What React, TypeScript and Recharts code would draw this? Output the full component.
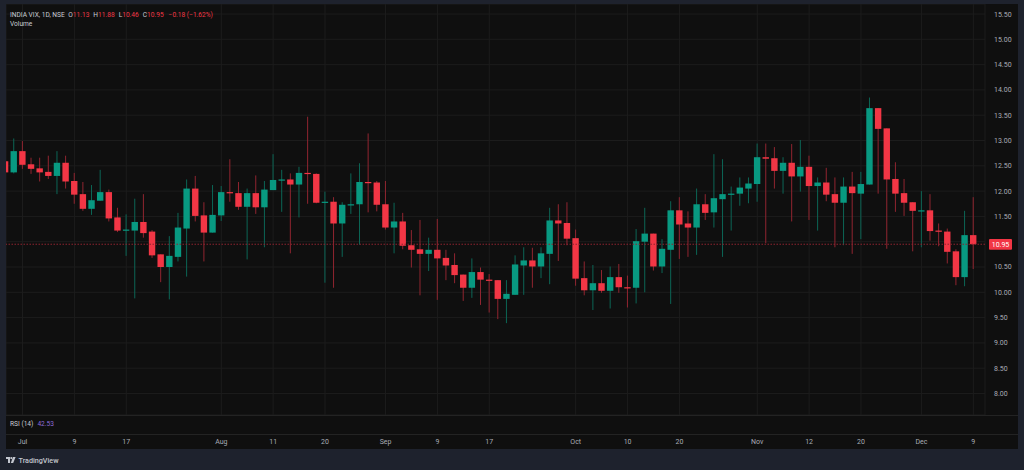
import React from 'react';
import { ComposedChart, Bar, XAxis, YAxis, CartesianGrid, ReferenceLine } from 'recharts';

// ---- data ----
const dates = [
  'Jun 27', 'Jun 30',
  'Jul 1', 'Jul 2', 'Jul 3', 'Jul 4', 'Jul 7', 'Jul 8', 'Jul 9', 'Jul 10', 'Jul 11', 'Jul 14', 'Jul 15', 'Jul 16', 'Jul 17', 'Jul 18',
  'Jul 21', 'Jul 22', 'Jul 23', 'Jul 24', 'Jul 25', 'Jul 28', 'Jul 29', 'Jul 30', 'Jul 31',
  'Aug 1', 'Aug 4', 'Aug 5', 'Aug 6', 'Aug 7', 'Aug 8', 'Aug 11', 'Aug 12', 'Aug 13', 'Aug 14', 'Aug 18', 'Aug 19', 'Aug 20',
  'Aug 21', 'Aug 22', 'Aug 25', 'Aug 26', 'Aug 28', 'Aug 29',
  'Sep 1', 'Sep 2', 'Sep 3', 'Sep 4', 'Sep 5', 'Sep 8', 'Sep 9', 'Sep 10', 'Sep 11', 'Sep 12', 'Sep 15', 'Sep 16', 'Sep 17',
  'Sep 18', 'Sep 19', 'Sep 22', 'Sep 23', 'Sep 24', 'Sep 25', 'Sep 26', 'Sep 29', 'Sep 30',
  'Oct 1', 'Oct 3', 'Oct 6', 'Oct 7', 'Oct 8', 'Oct 9', 'Oct 10', 'Oct 13', 'Oct 14', 'Oct 15', 'Oct 16', 'Oct 17', 'Oct 20',
  'Oct 21', 'Oct 23', 'Oct 24', 'Oct 27', 'Oct 28', 'Oct 29', 'Oct 30', 'Oct 31',
  'Nov 3', 'Nov 4', 'Nov 6', 'Nov 7', 'Nov 10', 'Nov 11', 'Nov 12', 'Nov 13', 'Nov 14', 'Nov 17', 'Nov 18', 'Nov 19', 'Nov 20',
  'Nov 21', 'Nov 24', 'Nov 25', 'Nov 26', 'Nov 27', 'Nov 28',
  'Dec 1', 'Dec 2', 'Dec 3', 'Dec 4', 'Dec 5', 'Dec 8', 'Dec 9',
];

const opens = [
  12.59, 12.37,
  12.79, 12.53, 12.45, 12.38, 12.30, 12.56, 12.20, 11.94, 11.65, 11.81, 11.98, 11.48, 11.23, 11.22,
  11.39, 11.20, 10.75, 10.50, 10.70, 11.26, 12.05, 11.52, 11.18,
  11.52, 11.98, 11.96, 11.69, 11.96, 11.68, 12.02, 12.22, 12.23, 12.13, 12.36, 12.34, 11.78,
  11.79, 11.36, 11.73, 11.74, 12.18, 12.17,
  11.74, 11.28, 11.40, 10.93, 10.85, 10.76, 10.84, 10.68, 10.54, 10.35, 10.09, 10.40, 10.25,
  10.24, 9.87, 9.95, 10.53, 10.63, 10.51, 10.76, 11.42, 11.37,
  11.07, 10.28, 10.04, 10.18, 10.03, 10.30, 10.10, 10.09, 11.00, 11.16, 10.51, 10.84, 11.62,
  11.36, 11.28, 11.74, 11.58, 11.84, 11.93, 11.95, 12.05,
  12.14, 12.67, 12.65, 12.40, 12.56, 12.29, 12.48, 12.10, 12.17, 11.94, 11.77, 12.09, 11.95,
  12.13, 13.64, 13.24, 12.24, 11.96, 11.78,
  11.61, 11.62, 11.22, 11.20, 10.81, 10.30, 11.13,
];

const highs = [
  12.66, 13.04,
  12.99, 12.66, 12.66, 12.70, 12.79, 12.70, 12.36, 12.18, 12.12, 12.42, 12.03, 11.67, 11.54, 11.85,
  11.94, 11.23, 10.75, 11.11, 11.57, 12.23, 12.30, 11.78, 12.12,
  12.10, 12.63, 12.18, 12.05, 12.31, 12.20, 12.73, 12.42, 12.35, 12.48, 13.47, 12.35, 11.99,
  11.88, 11.78, 12.35, 12.55, 13.14, 12.20,
  12.20, 11.77, 11.57, 11.23, 11.43, 11.08, 11.45, 10.84, 10.77, 10.35, 10.67, 10.49, 10.36,
  10.24, 10.24, 10.73, 10.89, 10.88, 10.89, 11.67, 11.74, 11.78,
  11.24, 10.61, 10.54, 10.44, 10.51, 10.56, 10.33, 11.25, 11.67, 11.16, 11.05, 11.80, 11.88,
  11.60, 12.05, 11.94, 12.73, 12.63, 12.09, 12.27, 12.27,
  12.94, 12.94, 12.87, 12.67, 12.93, 13.01, 12.70, 12.27, 12.46, 12.27, 12.27, 12.38, 12.38,
  13.85, 13.64, 13.24, 12.57, 12.24, 11.78,
  12.00, 11.94, 11.36, 11.26, 10.85, 11.61, 11.88,
];

const lows = [
  12.30, 12.35,
  12.44, 12.34, 12.19, 12.24, 11.94, 12.05, 11.75, 11.61, 11.53, 11.81, 11.40, 11.19, 10.72, 9.88,
  11.08, 10.68, 10.20, 9.86, 10.61, 10.31, 11.40, 10.61, 11.18,
  11.41, 11.79, 11.63, 10.65, 11.55, 10.89, 12.02, 11.59, 10.77, 11.48, 11.75, 11.76, 10.19,
  10.09, 10.70, 11.55, 10.94, 11.58, 11.60,
  11.24, 10.77, 10.85, 10.49, 9.94, 10.42, 9.85, 10.24, 10.18, 9.83, 9.89, 9.75, 9.60,
  9.47, 9.39, 9.95, 9.95, 10.09, 10.28, 10.16, 10.62, 10.93,
  10.13, 9.94, 9.65, 9.99, 9.68, 9.99, 9.70, 9.78, 10.00, 10.43, 10.38, 9.77, 10.66,
  10.70, 10.74, 11.43, 11.28, 10.70, 11.22, 11.71, 11.76,
  11.79, 10.97, 12.05, 11.95, 11.40, 11.99, 11.43, 11.22, 11.80, 10.89, 10.93, 10.76, 11.05,
  12.13, 11.95, 10.86, 11.59, 11.51, 10.81,
  10.89, 11.02, 10.91, 10.57, 10.14, 10.12, 10.46,
];

const closes = [
  12.37, 12.79,
  12.52, 12.44, 12.37, 12.30, 12.56, 12.19, 11.93, 11.65, 11.82, 11.98, 11.46, 11.22, 11.24, 11.39,
  11.17, 10.73, 10.50, 10.72, 11.28, 12.05, 11.51, 11.18, 11.53,
  11.98, 11.96, 11.69, 11.96, 11.68, 12.03, 12.22, 12.23, 12.13, 12.36, 12.34, 11.77, 11.79,
  11.36, 11.73, 11.74, 12.18, 12.17, 11.73,
  11.28, 11.40, 10.92, 10.84, 10.76, 10.84, 10.67, 10.53, 10.34, 10.09, 10.40, 10.25, 10.24,
  9.87, 9.97, 10.55, 10.63, 10.51, 10.77, 11.42, 11.36, 11.06,
  10.27, 10.04, 10.18, 10.03, 10.30, 10.10, 10.09, 11.01, 11.16, 10.51, 10.86, 11.62, 11.34,
  11.28, 11.74, 11.57, 11.86, 11.94, 11.95, 12.07, 12.15,
  12.67, 12.64, 12.40, 12.56, 12.29, 12.48, 12.10, 12.17, 11.93, 11.77, 12.09, 11.96, 12.14,
  13.64, 13.23, 12.23, 11.95, 11.77, 11.61,
  11.62, 11.21, 11.20, 10.80, 10.30, 11.13, 10.95,
];

const tickDates = ['Jul 1', 'Jul 9', 'Jul 17', 'Aug 1', 'Aug 11', 'Aug 20', 'Sep 1', 'Sep 9', 'Sep 17',
  'Oct 1', 'Oct 10', 'Oct 20', 'Nov 3', 'Nov 12', 'Nov 20', 'Dec 1', 'Dec 9'];
const tickLabels = ['Jul', '9', '17', 'Aug', '11', '20', 'Sep', '9', '17',
  'Oct', '10', '20', 'Nov', '12', '20', 'Dec', '9'];

const priceTicks = [8.0, 8.5, 9.0, 9.5, 10.0, 10.5, 11.0, 11.5, 12.0, 12.5, 13.0, 13.5, 14.0, 14.5, 15.0, 15.5];

// ---- derived ----
const data = dates.map((d, k) => ({
  date: d,
  i: k,
  open: opens[k],
  high: highs[k],
  low: lows[k],
  close: closes[k],
}));
const xTicks = tickDates.map((d) => dates.indexOf(d));
const labelByIndex: Record<number, string> = {};
xTicks.forEach((t, j) => { labelByIndex[t] = tickLabels[j]; });
const lastClose = closes[closes.length - 1];

// ---- style ----
const FONT = "Roboto, 'Noto Sans', 'DejaVu Sans', sans-serif";
const UP = '#089981';
const DOWN = '#f23645';
const WICK_UP = '#0c6656';
const WICK_DOWN = '#912530';
const BG = '#0f0f0f';
const OUTER = '#1e222d';
const AXIS_TEXT = '#a9acb5';
const LABEL = '#c9ccd4';

const Candle = (props: any) => {
  const { x, y, width, height, payload } = props;
  if (!payload) return null;
  const { open, high, low, close } = payload;
  const top = Math.min(y, y + height);
  const h = Math.abs(height);
  const py = (v: number) => top + ((high - v) / (high - low)) * h;
  const up = close >= open;
  const cx = x + width / 2;
  const bTop = py(Math.max(open, close));
  const bBot = py(Math.min(open, close));
  return (
    <g>
      <line x1={cx} x2={cx} y1={top} y2={top + h} stroke={up ? WICK_UP : WICK_DOWN} strokeWidth={1} />
      <rect x={x} y={bTop} width={width} height={Math.max(1.2, bBot - bTop)} fill={up ? UP : DOWN} />
    </g>
  );
};

const PriceTag = (props: any) => {
  const vb = props.viewBox || {};
  const x = (vb.x || 0) + (vb.width || 0) + 4;
  const y = vb.y || 0;
  return (
    <g>
      <rect x={x} y={y - 5.3} width={23} height={10.8} rx={1} fill={DOWN} />
      <text x={x + 11.5} y={y + 0.3} textAnchor="middle" dominantBaseline="central" fontSize={7} fontFamily={FONT} fill="#ffffff">
        {lastClose.toFixed(2)}
      </text>
    </g>
  );
};

// the tick hidden behind the last-price tag in the reference
const priceTickText = (v: number) => (Math.abs(v - lastClose) < 0.15 ? '' : v.toFixed(2));

export default function App() {
  return (
    <div style={{ position: 'fixed', left: 0, top: 0, width: 1024, height: 470, background: OUTER, overflow: 'hidden', fontFamily: FONT }}>
      <div style={{ position: 'absolute', left: 6, top: 4, width: 1012, height: 445, background: BG }} />
      <div style={{ position: 'absolute', left: 6, top: 4 }}>
        <ComposedChart width={1012} height={445} data={data} margin={{ top: 0, right: 0, bottom: 0, left: 0 }}>
          <CartesianGrid stroke="#1c1c1c" strokeWidth={1} />
          <XAxis
            dataKey="i"
            type="number"
            domain={[0.091, 113.35]}
            allowDataOverflow
            ticks={xTicks}
            interval={0}
            tickFormatter={(v: number) => labelByIndex[v] || ''}
            height={34}
            axisLine={false}
            tickLine={false}
            tickSize={0}
            tickMargin={24}
            tick={{ fill: AXIS_TEXT, fontSize: 7, fontFamily: FONT }}
          />
          <YAxis
            orientation="right"
            type="number"
            domain={[7.575, 15.698]}
            allowDataOverflow
            ticks={priceTicks}
            interval={0}
            tickFormatter={priceTickText}
            width={33}
            axisLine={false}
            tickLine={false}
            tickSize={0}
            tickMargin={9}
            tick={{ fill: AXIS_TEXT, fontSize: 7, fontFamily: FONT }}
          />
          <ReferenceLine y={lastClose} stroke="#8f2430" strokeWidth={1} strokeDasharray="1.5 1.5" label={<PriceTag />} />
          <Bar
            dataKey={(d: any) => [d.low, d.high]}
            barSize={6.4}
            shape={<Candle />}
            isAnimationActive={false}
          />
        </ComposedChart>
      </div>

      {/* pane separators */}
      <div style={{ position: 'absolute', left: 6, top: 415, width: 1012, height: 1, background: '#232323' }} />
      <div style={{ position: 'absolute', left: 6, top: 434, width: 1012, height: 1, background: '#232323' }} />

      {/* header */}
      <div style={{ position: 'absolute', left: 10, top: 10.5, fontSize: 6.6, lineHeight: '8px', whiteSpace: 'pre', color: LABEL }}>
        <span>INDIA VIX, 1D, NSE</span>
        <span style={{ marginLeft: 3.5 }}>O</span><span style={{ color: DOWN }}>11.13</span>
        <span style={{ marginLeft: 4 }}>H</span><span style={{ color: DOWN }}>11.88</span>
        <span style={{ marginLeft: 4 }}>L</span><span style={{ color: DOWN }}>10.46</span>
        <span style={{ marginLeft: 4 }}>C</span><span style={{ color: DOWN }}>10.95</span>
        <span style={{ marginLeft: 5, color: DOWN }}>−0.18 (−1.62%)</span>
      </div>
      <div style={{ position: 'absolute', left: 10, top: 20, fontSize: 6.6, lineHeight: '8px', whiteSpace: 'pre', color: LABEL }}>Volume</div>

      {/* RSI pane label */}
      <div style={{ position: 'absolute', left: 10, top: 420, fontSize: 6.6, lineHeight: '8px', whiteSpace: 'pre', color: LABEL }}>
        <span>RSI (14)</span>
        <span style={{ marginLeft: 4, color: '#8e6bd6' }}>42.53</span>
      </div>

      {/* TradingView mark */}
      <svg style={{ position: 'absolute', left: 6, top: 457 }} width={10} height={7} viewBox="0 0 10 7">
        <rect x={0} y={0} width={4} height={2} fill="#c3c6ce" />
        <rect x={2} y={0} width={2} height={6} fill="#c3c6ce" />
        <circle cx={5.3} cy={1.1} r={1.1} fill="#c3c6ce" />
        <polygon points="7,0 9.6,0 7.2,6 4.8,6" fill="#c3c6ce" />
      </svg>
      <span style={{ position: 'absolute', left: 18.5, top: 455.5, fontSize: 7.2, lineHeight: '9px', color: '#c3c6ce', fontWeight: 500, whiteSpace: 'pre' }}>TradingView</span>
    </div>
  );
}
